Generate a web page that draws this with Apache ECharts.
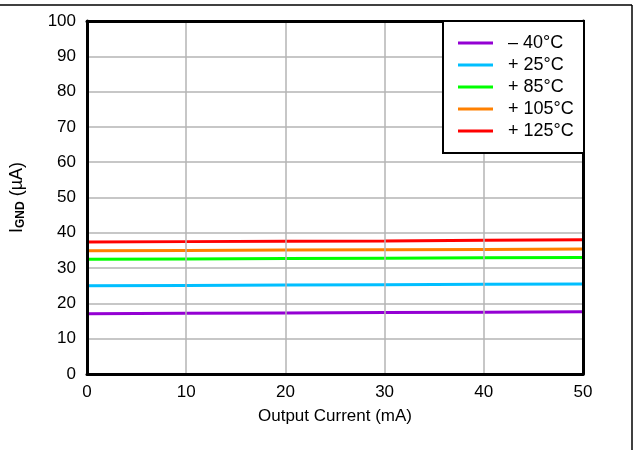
<!DOCTYPE html>
<html>
<head>
<meta charset="utf-8">
<script src="https://cdn.jsdelivr.net/npm/echarts@6/dist/echarts.min.js"></script>
<style>
  html, body { margin: 0; padding: 0; background: #fff; }
  #chart { width: 637px; height: 450px; }
</style>
</head>
<body>
<div id="chart"></div>
<script>
// Output current (mA)
const outputCurrent = [0, 10, 20, 30, 40, 50];

// Ground current (uA) per temperature
const iGndMinus40 = [17.1, 17.2, 17.3, 17.4, 17.5, 17.6];
const iGnd25 = [25.0, 25.1, 25.2, 25.3, 25.4, 25.5];
const iGnd85 = [32.5, 32.6, 32.7, 32.8, 32.9, 33.0];
const iGnd105 = [34.9, 35.0, 35.1, 35.2, 35.3, 35.4];
const iGnd125 = [37.4, 37.5, 37.6, 37.7, 37.9, 38.0];

const xTicks = { min: 0, max: 50, step: 10 };
const yTicks = { min: 0, max: 100, step: 10 };

const seriesNames = ['\u2013 40\u00B0C', '+ 25\u00B0C', '+ 85\u00B0C', '+ 105\u00B0C', '+ 125\u00B0C'];
const seriesValues = [iGndMinus40, iGnd25, iGnd85, iGnd105, iGnd125];
const seriesColors = ['#9400D3', '#00BFFF', '#00FF00', '#FF8000', '#FF0000'];

const FONT = 'Liberation Sans, Arial, Helvetica, sans-serif';
const FS = 17;

const chart = echarts.init(document.getElementById('chart'), null, { renderer: 'canvas' });

const series = seriesValues.map((vals, i) => ({
  name: seriesNames[i],
  type: 'line',
  data: outputCurrent.map((x, j) => [x, vals[j]]),
  showSymbol: false,
  symbol: 'none',
  lineStyle: { color: seriesColors[i], width: 3 },
  itemStyle: { color: seriesColors[i] },
  silent: true,
  z: 3
}));

const frameAxis = { show: true, onZero: false, lineStyle: { color: '#000', width: 3 } };

chart.setOption({
  animation: false,
  backgroundColor: '#fff',
  grid: { left: 87, top: 21, right: 54, bottom: 76 },
  xAxis: [{
    type: 'value',
    min: xTicks.min, max: xTicks.max, interval: xTicks.step,
    name: 'Output Current (mA)',
    nameLocation: 'middle',
    nameGap: 34,
    nameTextStyle: { fontFamily: FONT, fontSize: FS, color: '#000' },
    axisLine: frameAxis,
    axisTick: { show: false },
    axisLabel: { fontFamily: FONT, fontSize: FS, color: '#000', margin: 10 },
    splitLine: { show: true, lineStyle: { color: '#b4b4b4', width: 1.5 } },
    z: 5
  }, {
    type: 'value', position: 'top',
    min: xTicks.min, max: xTicks.max, interval: xTicks.step,
    axisLine: frameAxis, axisTick: { show: false }, axisLabel: { show: false },
    splitLine: { show: false }, z: 5
  }],
  yAxis: [{
    type: 'value',
    min: yTicks.min, max: yTicks.max, interval: yTicks.step,
    name: '{a|I}{b|GND}{a| (\u00B5A)}',
    nameLocation: 'middle',
    nameGap: 60,
    nameTextStyle: {
      rich: {
        a: { fontFamily: FONT, fontSize: 18, color: '#000' },
        b: { fontFamily: FONT, fontSize: 12, fontWeight: 'bold', color: '#000', padding: [8, 0, 0, 0] }
      }
    },
    axisLine: frameAxis,
    axisTick: { show: false },
    axisLabel: { fontFamily: FONT, fontSize: FS, color: '#000', margin: 11 },
    splitLine: { show: true, lineStyle: { color: '#b4b4b4', width: 1.5 } },
    z: 5
  }, {
    type: 'value', position: 'right',
    min: yTicks.min, max: yTicks.max, interval: yTicks.step,
    axisLine: frameAxis, axisTick: { show: false }, axisLabel: { show: false },
    splitLine: { show: false }, z: 5
  }],
  legend: {
    orient: 'vertical',
    left: 458,
    top: 32,
    itemGap: 0,
    itemWidth: 35,
    itemHeight: 3,
    icon: 'rect',
    padding: 0,
    data: seriesNames.map((n, i) => ({ name: n, itemStyle: { color: seriesColors[i] } })),
    textStyle: { fontFamily: FONT, fontSize: 18, color: '#000', lineHeight: 22, padding: [0, 0, 0, 10] },
    selectedMode: false,
    z: 10
  },
  graphic: [
    // legend frame
    { type: 'rect', shape: { x: 443, y: 21, width: 141, height: 132 },
      style: { fill: '#fff', stroke: '#000', lineWidth: 2 }, z: 8, silent: true },
    // page frame lines
    { type: 'line', shape: { x1: 0, y1: 5, x2: 632, y2: 5 },
      style: { stroke: '#000', lineWidth: 1.5 }, silent: true },
    { type: 'line', shape: { x1: 632, y1: 5, x2: 632, y2: 450 },
      style: { stroke: '#000', lineWidth: 1.5 }, silent: true }
  ],
  series: series
});
</script>
</body>
</html>
